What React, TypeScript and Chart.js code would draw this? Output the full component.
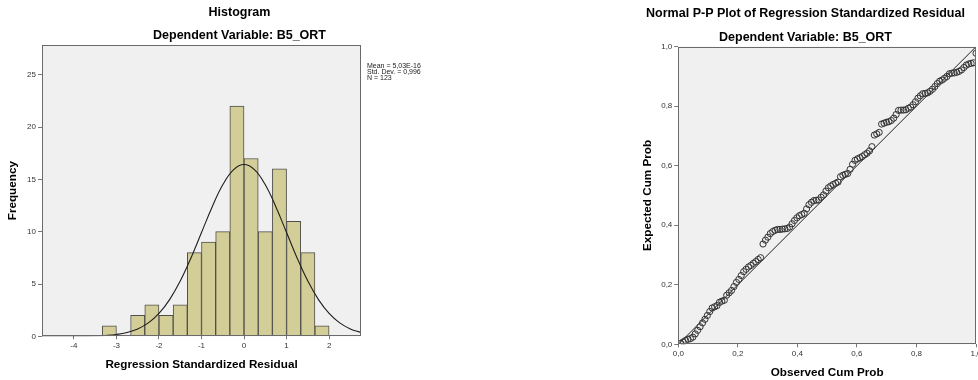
import React, { useEffect, useRef } from "react";
import { Chart, registerables } from "chart.js";

Chart.register(...registerables);

const FONT = '"Liberation Sans", Arial, Helvetica, sans-serif';

// ---------- Histogram data ----------
const histBinCenters = [-3.1667, -2.8333, -2.5, -2.1667, -1.8333, -1.5, -1.1667, -0.8333, -0.5, -0.1667, 0.1667, 0.5, 0.8333, 1.1667, 1.5, 1.8333];
const histCounts = [1, 0, 2, 3, 2, 3, 8, 9, 10, 22, 17, 10, 16, 11, 8, 1];
const curveX = [-4.75, -4.5, -4.25, -4, -3.75, -3.5, -3.25, -3, -2.75, -2.5, -2.25, -2, -1.75, -1.5, -1.25, -1, -0.75, -0.5, -0.25, 0, 0.25, 0.5, 0.75, 1, 1.25, 1.5, 1.75, 2, 2.25, 2.5, 2.75];
const curveY = [0.0002, 0.0006, 0.0018, 0.005, 0.014, 0.034, 0.08, 0.176, 0.363, 0.704, 1.28, 2.19, 3.51, 5.28, 7.47, 9.92, 12.37, 14.48, 15.91, 16.42, 15.91, 14.48, 12.37, 9.92, 7.47, 5.28, 3.51, 2.19, 1.28, 0.704, 0.363];
const histXTicks = [-4, -3, -2, -1, 0, 1, 2];
const histYTicks = [0, 5, 10, 15, 20, 25];
const statsLines = ["Mean = 5,03E-16", "Std. Dev. = 0,996", "N = 123"];

// ---------- P-P plot data ----------
const ppObserved = [
  0.0081, 0.0163, 0.0244, 0.0325, 0.0407, 0.0488, 0.0569, 0.0650, 0.0732, 0.0813,
  0.0894, 0.0976, 0.1057, 0.1138, 0.1220, 0.1301, 0.1382, 0.1463, 0.1545, 0.1626,
  0.1707, 0.1789, 0.1870, 0.1951, 0.2033, 0.2114, 0.2195, 0.2276, 0.2358, 0.2439,
  0.2520, 0.2602, 0.2683, 0.2764, 0.2846, 0.2927, 0.3008, 0.3089, 0.3171, 0.3252,
  0.3333, 0.3415, 0.3496, 0.3577, 0.3659, 0.3740, 0.3821, 0.3902, 0.3984, 0.4065,
  0.4146, 0.4228, 0.4309, 0.4390, 0.4472, 0.4553, 0.4634, 0.4715, 0.4797, 0.4878,
  0.4959, 0.5041, 0.5122, 0.5203, 0.5285, 0.5366, 0.5447, 0.5528, 0.5610, 0.5691,
  0.5772, 0.5854, 0.5935, 0.6016, 0.6098, 0.6179, 0.6260, 0.6341, 0.6423, 0.6504,
  0.6585, 0.6667, 0.6748, 0.6829, 0.6911, 0.6992, 0.7073, 0.7154, 0.7236, 0.7317,
  0.7398, 0.7480, 0.7561, 0.7642, 0.7724, 0.7805, 0.7886, 0.7967, 0.8049, 0.8130,
  0.8211, 0.8293, 0.8374, 0.8455, 0.8537, 0.8618, 0.8699, 0.8780, 0.8862, 0.8943,
  0.9024, 0.9106, 0.9187, 0.9268, 0.9350, 0.9431, 0.9512, 0.9593, 0.9675, 0.9756,
  0.9837, 0.9919, 1.0
];
const ppExpected = [
  0.003, 0.008, 0.013, 0.017, 0.019, 0.024, 0.035, 0.047, 0.059, 0.072,
  0.084, 0.097, 0.110, 0.122, 0.126, 0.130, 0.141, 0.145, 0.148, 0.165,
  0.173, 0.181, 0.194, 0.208, 0.218, 0.231, 0.244, 0.252, 0.260, 0.265,
  0.272, 0.278, 0.285, 0.291, 0.337, 0.350, 0.360, 0.372, 0.379, 0.383,
  0.386, 0.386, 0.387, 0.388, 0.389, 0.394, 0.405, 0.416, 0.425, 0.432,
  0.436, 0.440, 0.455, 0.469, 0.477, 0.483, 0.484, 0.485, 0.494, 0.502,
  0.515, 0.526, 0.532, 0.537, 0.541, 0.545, 0.563, 0.568, 0.571, 0.574,
  0.588, 0.605, 0.618, 0.623, 0.627, 0.631, 0.637, 0.642, 0.650, 0.664,
  0.703, 0.707, 0.712, 0.740, 0.743, 0.746, 0.748, 0.752, 0.760, 0.772,
  0.786, 0.787, 0.787, 0.788, 0.793, 0.797, 0.805, 0.815, 0.827, 0.835,
  0.842, 0.843, 0.845, 0.850, 0.857, 0.866, 0.876, 0.884, 0.888, 0.894,
  0.900, 0.909, 0.911, 0.912, 0.914, 0.917, 0.922, 0.930, 0.938, 0.942,
  0.944, 0.946, 0.978
];
const ppDiagonal = [0, 1];
const ppTicks = [0, 0.2, 0.4, 0.6, 0.8, 1.0];

// ---------- shared styling ----------
const titleFont = { family: FONT, size: 12.5, weight: "bold" as const };
const axisTitleFont = { family: FONT, size: 11.7, weight: "bold" as const };
const tickFont = { family: FONT, size: 8 };
const TICK_COLOR = "#333";
const TICKMARK_COLOR = "#777";

const framePlugin = {
  id: "plotFrame",
  beforeDraw(chart: any) {
    const { ctx, chartArea } = chart;
    if (!chartArea) return;
    ctx.save();
    ctx.fillStyle = "#f0f0f0";
    ctx.fillRect(chartArea.left, chartArea.top, chartArea.right - chartArea.left, chartArea.bottom - chartArea.top);
    ctx.restore();
  },
  afterDatasetsDraw(chart: any) {
    const { ctx, chartArea } = chart;
    ctx.save();
    ctx.strokeStyle = "#6a6a6a";
    ctx.lineWidth = 1;
    const l = Math.round(chartArea.left) + 0.5;
    const t = Math.round(chartArea.top) + 0.5;
    const r = Math.round(chartArea.right) - 0.5;
    const b = Math.round(chartArea.bottom) - 0.5;
    ctx.strokeRect(l, t, r - l, b - t);
    ctx.restore();
  },
};

const statsPlugin = {
  id: "statsText",
  afterDraw(chart: any) {
    const { ctx, chartArea } = chart;
    ctx.save();
    ctx.font = `7px ${FONT}`;
    ctx.fillStyle = "#222";
    ctx.textAlign = "left";
    ctx.textBaseline = "middle";
    statsLines.forEach((line, i) => {
      ctx.fillText(line, chartArea.right + 6, chartArea.top + 21 + i * 6.2);
    });
    ctx.restore();
  },
};

function fixedTicks(values: number[]) {
  return (scale: any) => {
    scale.ticks = values.map((v) => ({ value: v }));
  };
}

function HistogramChart() {
  const ref = useRef<HTMLCanvasElement>(null);
  useEffect(() => {
    const chart = new Chart(ref.current as HTMLCanvasElement, {
      type: "bar",
      data: {
        datasets: [
          {
            type: "line",
            data: curveX.map((x, i) => ({ x, y: curveY[i] })),
            borderColor: "#1e1e1e",
            borderWidth: 1.1,
            pointRadius: 0,
            tension: 0.4,
            fill: false,
            order: 0,
            xAxisID: "x",
            yAxisID: "y",
          } as any,
          {
            type: "bar",
            data: histBinCenters.map((x, i) => ({ x, y: histCounts[i] })),
            backgroundColor: "#d3ce97",
            borderColor: "#4f4f4a",
            borderWidth: 1,
            barPercentage: 1,
            categoryPercentage: 1,
            order: 1,
            xAxisID: "x",
            yAxisID: "y",
          } as any,
        ],
      },
      options: {
        responsive: false,
        animation: false,
        devicePixelRatio: 1,
        layout: { padding: 0 },
        plugins: {
          legend: { display: false },
          tooltip: { enabled: false },
          title: {
            display: true,
            text: "Histogram",
            font: titleFont,
            color: "#000",
            padding: { top: 5, bottom: 7.6 },
          },
          subtitle: {
            display: true,
            text: "Dependent Variable: B5_ORT",
            font: titleFont,
            color: "#000",
            padding: { top: 0, bottom: 2.4 },
          },
        },
        scales: {
          x: {
            type: "linear",
            min: -4.75,
            max: 2.75,
            offset: false,
            afterBuildTicks: fixedTicks(histXTicks),
            grid: { display: true, offset: false, drawOnChartArea: false, drawTicks: true, tickLength: 3, color: TICKMARK_COLOR },
            border: { display: false },
            ticks: { font: tickFont, color: TICK_COLOR, padding: 2, maxRotation: 0, autoSkip: false },
            title: {
              display: true,
              text: "Regression Standardized Residual",
              font: axisTitleFont,
              color: "#000",
              padding: { top: 6, bottom: 8 },
            },
            afterFit: (s: any) => {
              s.height = 43.7;
            },
          },
          y: {
            type: "linear",
            min: 0,
            max: 27.85,
            afterBuildTicks: fixedTicks(histYTicks),
            grid: { display: true, drawOnChartArea: false, drawTicks: true, tickLength: 4, color: TICKMARK_COLOR },
            border: { display: false },
            ticks: { font: tickFont, color: TICK_COLOR, padding: 2 },
            title: {
              display: true,
              text: "Frequency",
              font: axisTitleFont,
              color: "#000",
              padding: { top: 6, bottom: 0 },
            },
            afterFit: (s: any) => {
              s.width = 42;
            },
          },
          yR: {
            type: "linear",
            position: "right",
            display: true,
            grid: { display: false },
            border: { display: false },
            ticks: { display: false },
            afterFit: (s: any) => {
              s.width = 118;
            },
          },
        },
      } as any,
      plugins: [framePlugin, statsPlugin],
    });
    return () => chart.destroy();
  }, []);
  return (
    <canvas
      ref={ref}
      width={479}
      height={380}
      style={{ position: "absolute", left: 0, top: 0, width: 479, height: 380 }}
    />
  );
}

function PPChart() {
  const ref = useRef<HTMLCanvasElement>(null);
  useEffect(() => {
    const fmt = (v: any) => Number(v).toFixed(1).replace(".", ",");
    const chart = new Chart(ref.current as HTMLCanvasElement, {
      type: "scatter",
      data: {
        datasets: [
          {
            data: ppDiagonal.map((v) => ({ x: v, y: v })),
            showLine: true,
            borderColor: "#1e1e1e",
            borderWidth: 1,
            pointRadius: 0,
            order: 1,
          } as any,
          {
            data: ppObserved.map((x, i) => ({ x, y: ppExpected[i] })),
            pointStyle: "circle",
            pointRadius: 3.1,
            borderWidth: 1,
            borderColor: "#333",
            backgroundColor: "rgba(0,0,0,0)",
            order: 0,
          } as any,
        ],
      },
      options: {
        responsive: false,
        animation: false,
        devicePixelRatio: 1,
        layout: { padding: { left: 0, right: 19, top: 0, bottom: 0 } },
        plugins: {
          legend: { display: false },
          tooltip: { enabled: false },
          title: {
            display: true,
            text: "Normal P-P Plot of Regression Standardized Residual",
            font: titleFont,
            color: "#000",
            padding: { top: 6, bottom: 8.6 },
          },
          subtitle: {
            display: true,
            text: "Dependent Variable: B5_ORT",
            font: titleFont,
            color: "#000",
            padding: { top: 0, bottom: 2.1 },
          },
        },
        scales: {
          x: {
            type: "linear",
            min: 0,
            max: 1,
            afterBuildTicks: fixedTicks(ppTicks),
            grid: { display: true, drawOnChartArea: false, drawTicks: true, tickLength: 3, color: TICKMARK_COLOR },
            border: { display: false },
            ticks: { font: tickFont, color: TICK_COLOR, padding: 2, maxRotation: 0, autoSkip: false, callback: fmt },
            title: {
              display: true,
              text: "Observed Cum Prob",
              font: axisTitleFont,
              color: "#000",
              padding: { top: 6, bottom: 0.3 },
            },
            afterFit: (s: any) => {
              s.height = 35.7;
            },
          },
          y: {
            type: "linear",
            min: 0,
            max: 1,
            afterBuildTicks: fixedTicks(ppTicks),
            grid: { display: true, drawOnChartArea: false, drawTicks: true, tickLength: 4, color: TICKMARK_COLOR },
            border: { display: false },
            ticks: { font: tickFont, color: TICK_COLOR, padding: 2, callback: fmt },
            title: {
              display: true,
              text: "Expected Cum Prob",
              font: axisTitleFont,
              color: "#000",
              padding: { top: 6, bottom: 0 },
            },
            afterFit: (s: any) => {
              s.width = 43.3;
            },
          },
        },
      } as any,
      plugins: [framePlugin],
    });
    return () => chart.destroy();
  }, []);
  return (
    <canvas
      ref={ref}
      width={360}
      height={380}
      style={{ position: "absolute", left: 635, top: 0, width: 360, height: 380 }}
    />
  );
}

export default function App() {
  return (
    <div
      style={{
        position: "fixed",
        left: 0,
        top: 0,
        width: 978,
        height: 380,
        overflow: "hidden",
        background: "#fff",
      }}
    >
      <HistogramChart />
      <PPChart />
    </div>
  );
}
